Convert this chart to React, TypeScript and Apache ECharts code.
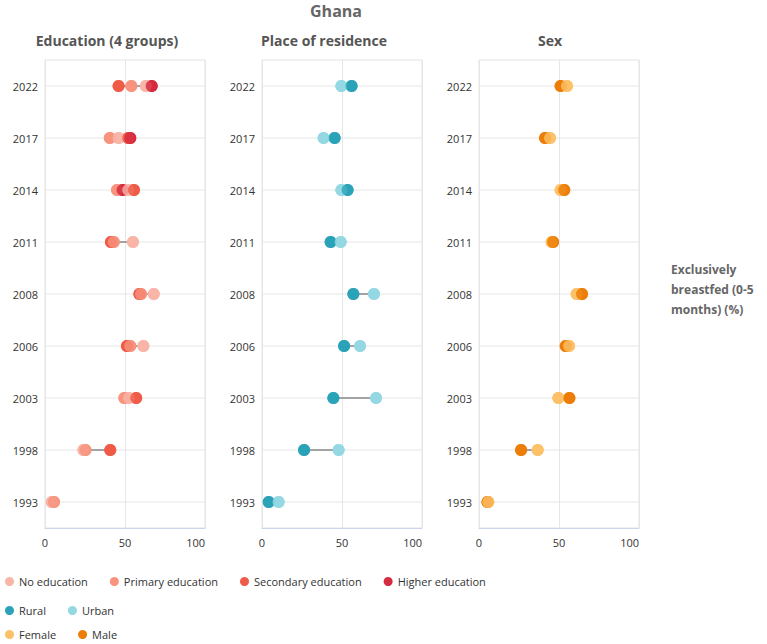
import React, { useEffect, useRef } from 'react';
import * as echarts from 'echarts';

const years = ['2022', '2017', '2014', '2011', '2008', '2006', '2003', '1998', '1993'];
const panelTitles = ['Education (4 groups)', 'Place of residence', 'Sex'];
const chartTitle = 'Ghana';
const indicatorLabel = 'Exclusively\nbreastfed (0-5\nmonths) (%)';
const xMin = 0;
const xMax = 100;
const xInterval = 50;

const noEducation = [63, 46, 52, 55, 68, 61.5, 52.5, 24, 4.2];
const primaryEducation = [54, 40.5, 45, 43, 60, 53.3, 49.6, 25.3, 5.6];
const secondaryEducation = [46, 52, 55.6, 41.2, 59, 51.2, 57, 40.8, null];
const higherEducation = [66.7, 53.3, 48.5, null, null, null, null, null, null];

const rural = [56, 45.4, 53.5, 42.9, 57.1, 51.3, 44.6, 26.3, 4.2];
const urban = [49.6, 38.5, 49.6, 49.2, 70, 61.3, 71.3, 47.9, 10.4];

const female = [55, 44.4, 51, 45.4, 61, 56.3, 49.6, 36.7, 5.8];
const male = [51, 41.3, 53.3, 46.3, 64.4, 54.2, 56.5, 26.3, 5.3];

type Group = { name: string; color: string; values: (number | null)[] };

const panels: Group[][] = [
  [
    { name: 'No education', color: '#f9b5a8', values: noEducation },
    { name: 'Primary education', color: '#f7937e', values: primaryEducation },
    { name: 'Secondary education', color: '#ef5b47', values: secondaryEducation },
    { name: 'Higher education', color: '#d62a3e', values: higherEducation },
  ],
  [
    { name: 'Rural', color: '#2ba2b8', values: rural },
    { name: 'Urban', color: '#94d8e3', values: urban },
  ],
  [
    { name: 'Female', color: '#fcc068', values: female },
    { name: 'Male', color: '#ec7d08', values: male },
  ],
];

const FONT = '"Open Sans", "Noto Sans", sans-serif';
const gridLefts = [45, 262, 479];
const gridWidth = 160;
const gridTop = 60;
const gridHeight = 468;
const titleCenters = [107, 324, 550];
const legendTops = [571, 600, 624];

export default function App() {
  const ref = useRef<HTMLDivElement>(null);
  useEffect(() => {
    if (!ref.current) return;
    const chart = echarts.init(ref.current, undefined, { renderer: 'svg' });

    const grid: any[] = [];
    const xAxis: any[] = [];
    const yAxis: any[] = [];
    const series: any[] = [];
    const legend: any[] = [];

    panels.forEach((groups, p) => {
      grid.push({
        left: gridLefts[p],
        top: gridTop,
        width: gridWidth,
        height: gridHeight,
        show: true,
        borderColor: '#e3e3e3',
        borderWidth: 1,
        backgroundColor: 'transparent',
      });
      xAxis.push({
        type: 'value',
        gridIndex: p,
        min: xMin,
        max: xMax,
        interval: xInterval,
        axisLine: { show: true, lineStyle: { color: '#ccd6eb', width: 1 } },
        axisTick: { show: false },
        splitLine: { show: true, lineStyle: { color: '#e6e6e6', width: 1 } },
        axisLabel: {
          color: '#333',
          fontSize: 11,
          fontFamily: FONT,
          margin: 9,
          alignMaxLabel: 'right',
        },
      });
      yAxis.push({
        type: 'category',
        gridIndex: p,
        data: years,
        inverse: true,
        axisLine: { show: false },
        axisTick: { show: false },
        splitLine: { show: false },
        axisLabel: { color: '#333', fontSize: 11, fontFamily: FONT, margin: 7 },
      });

      // horizontal grid lines through category centres + dumbbell connectors
      const rows = years.map((_, i) => {
        const vals = groups.map((g) => g.values[i]).filter((v) => v != null) as number[];
        const lo = vals.length ? Math.min(...vals) : NaN;
        const hi = vals.length ? Math.max(...vals) : NaN;
        return [i, lo, hi];
      });
      series.push({
        type: 'custom',
        xAxisIndex: p,
        yAxisIndex: p,
        silent: true,
        z: 1,
        data: rows,
        encode: { x: [1, 2], y: 0 },
        renderItem: (params: any, api: any) => {
          const idx = api.value(0);
          const g0 = api.coord([xMin, idx]);
          const g1 = api.coord([xMax, idx]);
          const children: any[] = [
            {
              type: 'line',
              shape: { x1: g0[0], y1: g0[1], x2: g1[0], y2: g1[1] },
              style: { stroke: '#e6e6e6', lineWidth: 1 },
            },
          ];
          const lo = api.value(1);
          const hi = api.value(2);
          if (isFinite(lo) && isFinite(hi) && hi > lo) {
            const a = api.coord([lo, idx]);
            const b = api.coord([hi, idx]);
            children.push({
              type: 'line',
              shape: { x1: a[0], y1: a[1], x2: b[0], y2: b[1] },
              style: { stroke: '#a3a3a3', lineWidth: 2 },
            });
          }
          return { type: 'group', children };
        },
      });

      // named series (legend)
      groups.forEach((g) => {
        series.push({
          type: 'scatter',
          name: g.name,
          xAxisIndex: p,
          yAxisIndex: p,
          symbol: 'circle',
          symbolSize: 12,
          z: 2,
          itemStyle: { color: g.color, opacity: 1 },
          data: g.values
            .map((v, i) => (v == null ? null : [v, years[i]]))
            .filter((d) => d != null),
        });
      });

      // overlay drawn in value order so the right-most marker sits on top
      const pts: any[] = [];
      groups.forEach((g) => {
        g.values.forEach((v, i) => {
          if (v != null) pts.push({ value: [v, years[i]], itemStyle: { color: g.color } });
        });
      });
      pts.sort((a, b) => a.value[0] - b.value[0]);
      series.push({
        type: 'scatter',
        xAxisIndex: p,
        yAxisIndex: p,
        symbol: 'circle',
        symbolSize: 12,
        silent: true,
        z: 3,
        data: pts,
      });

      legend.push({
        left: 0,
        top: legendTops[p],
        orient: 'horizontal',
        icon: 'circle',
        itemWidth: 9,
        itemHeight: 9,
        itemGap: 22,
        data: groups.map((g) => g.name),
        textStyle: { color: '#333', fontSize: 11, fontFamily: FONT },
      });
    });

    const graphic: any[] = [
      {
        type: 'text',
        x: 336,
        y: 11,
        style: {
          text: chartTitle,
          align: 'center',
          textAlign: 'center',
          verticalAlign: 'middle',
          textVerticalAlign: 'middle',
          font: `bold 16px ${FONT}`,
          fill: '#666',
        },
      },
      ...panelTitles.map((t, i) => ({
        type: 'text',
        x: titleCenters[i],
        y: 40,
        style: {
          text: t,
          align: 'center',
          textAlign: 'center',
          verticalAlign: 'middle',
          textVerticalAlign: 'middle',
          font: `bold 14px ${FONT}`,
          fill: '#555',
        },
      })),
      {
        type: 'text',
        x: 671,
        y: 259,
        style: {
          text: indicatorLabel,
          align: 'left',
          textAlign: 'left',
          verticalAlign: 'top',
          textVerticalAlign: 'top',
          font: `bold 12px ${FONT}`,
          lineHeight: 20,
          fill: '#666',
        },
      },
    ];

    chart.setOption({
      animation: false,
      backgroundColor: '#ffffff',
      textStyle: { fontFamily: FONT },
      grid,
      xAxis,
      yAxis,
      series,
      legend,
      graphic,
    });
    return () => chart.dispose();
  }, []);

  return (
    <div
      ref={ref}
      style={{ position: 'fixed', left: 0, top: 0, width: 767, height: 644 }}
    />
  );
}
